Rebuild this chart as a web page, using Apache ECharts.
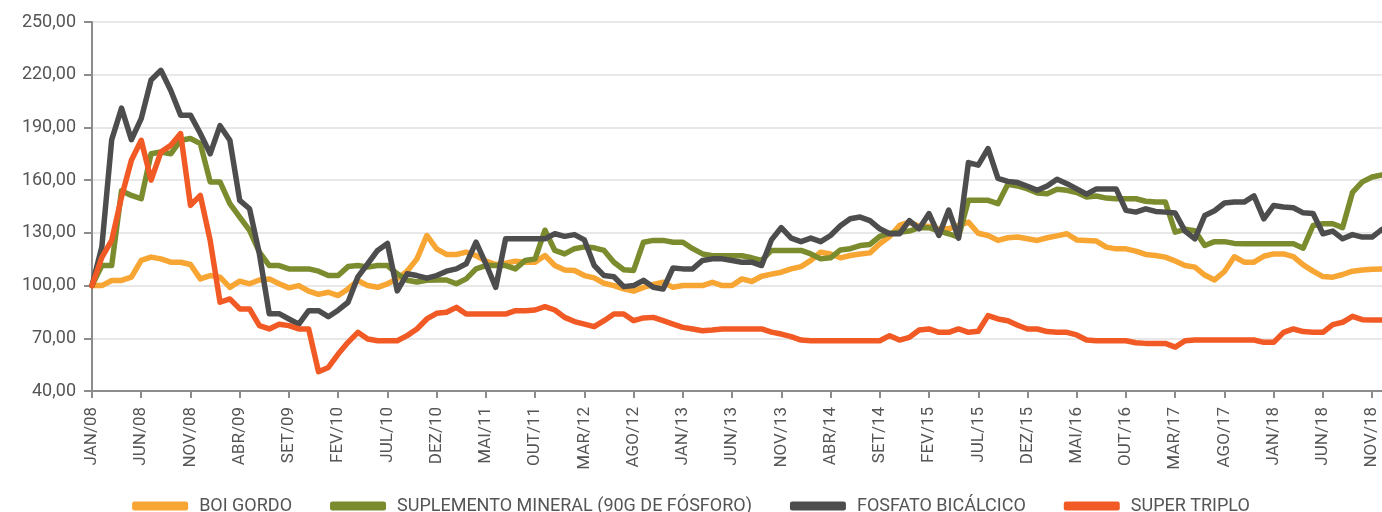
<!DOCTYPE html>
<html>
<head>
<meta charset="utf-8">
<script src="https://cdn.jsdelivr.net/npm/echarts@6/dist/echarts.min.js"></script>
<style>
html,body{margin:0;padding:0;background:#fff;}
#chart{width:1382px;height:512px;}
</style>
</head>
<body>
<div id="chart"></div>
<script>
const monthNames = ['JAN','FEV','MAR','ABR','MAI','JUN','JUL','AGO','SET','OUT','NOV','DEZ'];
const years = ['08','09','10','11','12','13','14','15','16','17','18'];
const categories = [];
years.forEach(y => monthNames.forEach(m => categories.push(m + '/' + y)));

const seriesNames = ['BOI GORDO', 'SUPLEMENTO MINERAL (90G DE FÓSFORO)', 'FOSFATO BICÁLCICO', 'SUPER TRIPLO'];

const boiGordo = [
100,100,102.9,102.9,104.8,114.3,116.2,115.2,113.3,113.3,112,103.8,
105.7,104.8,99,102.5,101,103.2,103.8,101,98.7,100,96.8,95,
96.2,94.3,98.1,102.9,100,99,101,103.8,108.2,115.2,128.5,120.9,
117.7,117.7,119,117.1,113.9,112,112.7,113.9,113.3,113.3,117.1,111.4,
108.9,108.6,105.7,104.4,101.3,100,98.1,96.8,99,100.6,101.9,99,
100,100,100,101.9,100,100,103.8,102.3,105.3,106.5,107.6,109.5,
110.8,114.3,119,118,115.8,117.1,118,118.6,123.8,127.9,134.2,136.1,
133.7,133.7,132.3,132.3,134.2,136.1,129.8,128.5,125.7,127.2,127.6,126.6,
125.7,127.2,128.3,129.5,126,125.7,125.3,121.9,120.9,120.9,119.6,117.7,
117.1,116.2,114,111.4,110.5,106,103.2,108,116.4,113.3,113.3,116.7,
118,118,116.5,111.8,108.2,105.1,104.8,106.3,108.2,108.9,109.3,109.5
];

const suplementoMineral = [
100,111.4,111.4,154,151.3,149.4,175,176,175,182.7,183.7,180.8,
159,159,146.6,139,131.4,119,111.4,111.4,109.5,109.5,109.5,108.2,
105.7,105.7,110.8,111.4,110.5,111.4,111.4,106.7,103,102,103,103.2,
103.2,101,103.8,109.5,111.4,111.4,111.4,109.5,114.3,115.2,131.5,120,
118,121,122,121.5,120,113.3,109,108.6,124.7,125.7,125.7,124.7,
124.7,121,118,117,117,117,117,115.8,114.3,120,120,120,
120,118,115.2,115.8,120.3,121,122.8,123.4,128,129.8,130.4,131,
132.9,132.9,131,129.5,127.6,148.5,148.5,148.5,146.6,157.6,156.7,155,
152.7,152.3,154.8,154.2,153,150.4,151,149.8,149.4,149.4,149.4,148,
147.5,147.5,130.4,132,131.2,122.8,125,125,124,123.8,123.8,123.8,
123.8,123.8,123.8,121.3,134.2,135.2,135.2,133,153,159,161.8,163
];

const fosfatoBicalcico = [
100,122,183,201,183,195,217,222.5,211,197,197,186.5,
175,191,182.7,148.5,143.7,118,84,84,81,78,85.7,85.7,
82.3,86,90.5,105,112.4,120,124,97,106.7,105.7,104.2,105.7,
108.2,109.5,112.4,124.7,112.4,99,126.6,126.6,126.6,126.6,126.6,129.5,
128,129,126,111.4,105.7,105,99.4,100,103,99,98,110,
109.5,109.5,114.3,115.2,115.2,114.3,113.3,113.3,111.4,126,133,127,
125,127,125,128.5,134,138,139,137,132.3,129.5,129.5,137,
132.3,141,128.5,143,127,170,168.5,178,161,159.3,158.6,156.5,
154.2,156.7,160.5,158,155,152,155,155,155,142.8,141.8,143.7,
142.2,141.8,141.3,131,126.6,139.9,142.6,147,147.5,147.5,151,138,
145.6,144.7,144.3,141.4,141,129.5,131,126.6,129,127.6,127.6,132
];

const superTriplo = [
100,116,125.7,150.4,171.3,182.7,160,176,179.8,186.5,145.6,151.3,
125.7,90.5,92.4,86.7,86.7,77.2,75.3,78,77.2,75.3,75.3,51,
53.4,61,67.7,73.4,69.6,68.6,68.6,68.6,71.5,75.3,81,84.2,
84.8,87.6,83.8,83.8,83.8,83.8,83.8,85.7,85.7,86.1,88,86.1,
81.9,79.5,78.1,76.6,80,83.8,83.8,80,81.6,81.9,80,78.1,
76.2,75.3,74.3,74.7,75.3,75.3,75.3,75.3,75.3,73.5,72.4,70.9,
69,68.6,68.6,68.6,68.6,68.6,68.6,68.6,68.6,71.5,69,70.5,
74.7,75.3,73.4,73.4,75.3,73.4,74,82.9,81,80,77.4,75.3,
75.3,73.8,73.4,73.4,71.9,69,68.6,68.6,68.6,68.6,67.5,67.1,
67.1,67.1,65,68.6,69,69,69,69,69,69,69,67.7,
67.7,73.4,75.3,73.8,73.4,73.4,77.8,79.1,82.5,80.6,80.4,80.4
];

const seriesData = [boiGordo, suplementoMineral, fosfatoBicalcico, superTriplo];
const colors = ['#F7A533', '#7B8C2F', '#4D4D4D', '#F15A24'];

const yMin = 40, yMax = 250, yStep = 30;
const FONT = 'Roboto, "Noto Sans", sans-serif';
const TEXT = '#555555';

const chart = echarts.init(document.getElementById('chart'), null, {renderer: 'canvas'});
chart.setOption({
  animation: false,
  backgroundColor: '#ffffff',
  color: colors,
  grid: {left: 92, right: -3, top: 22, bottom: 121, containLabel: false},
  legend: {
    top: 492,
    left: 'center',
    icon: 'roundRect',
    itemWidth: 56,
    itemHeight: 9,
    itemGap: 38,
    textStyle: {fontFamily: FONT, fontSize: 18, color: TEXT, padding: [0, 0, 0, 6]},
    data: seriesNames
  },
  xAxis: {
    type: 'category',
    data: categories,
    boundaryGap: false,
    axisLine: {lineStyle: {color: '#8C8C8C', width: 2}},
    axisTick: {show: true, interval: 4, length: 7, lineStyle: {color: '#8C8C8C', width: 2}},
    axisLabel: {interval: 4, rotate: 90, margin: 16, fontFamily: FONT, fontSize: 17, color: TEXT},
    splitLine: {show: false}
  },
  yAxis: {
    type: 'value',
    min: yMin, max: yMax, interval: yStep,
    axisLine: {show: true, lineStyle: {color: '#8C8C8C', width: 2}},
    axisTick: {show: true, length: 8, lineStyle: {color: '#8C8C8C', width: 2}},
    axisLabel: {
      margin: 16, fontFamily: FONT, fontSize: 18, color: TEXT,
      formatter: v => v.toFixed(2).replace('.', ',')
    },
    splitLine: {lineStyle: {color: '#E8E8E8', width: 2}}
  },
  series: seriesNames.map((name, k) => ({
    name: name,
    type: 'line',
    data: seriesData[k],
    symbol: 'none',
    smooth: false,
    lineStyle: {width: 5.5, color: colors[k], join: 'round', cap: 'round'},
    itemStyle: {color: colors[k]},
    z: 2 + k
  }))
});
</script>
</body>
</html>
